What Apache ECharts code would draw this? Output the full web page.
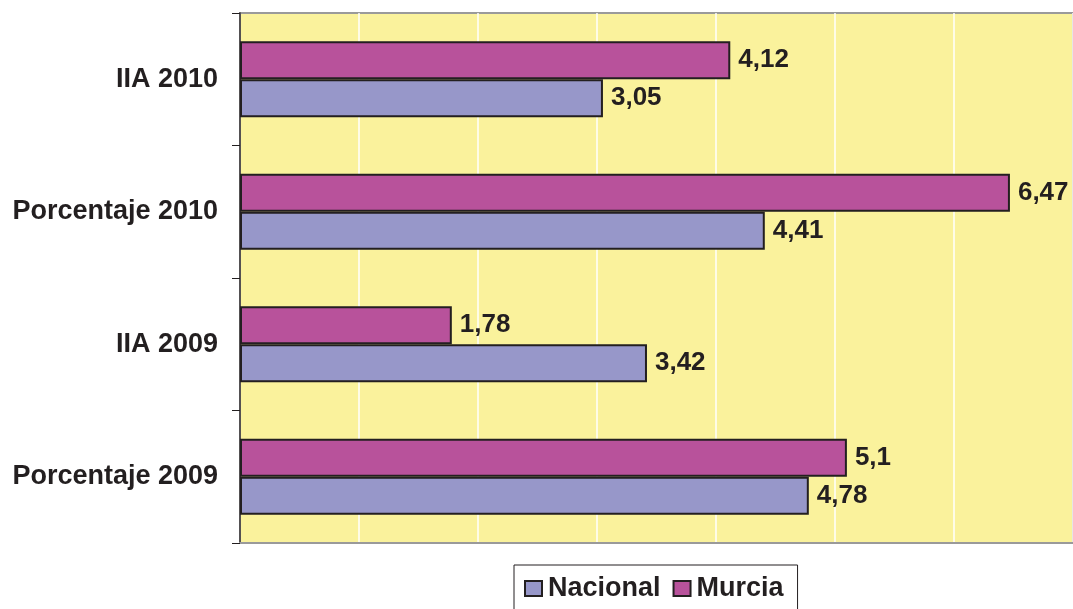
<!DOCTYPE html>
<html>
<head>
<meta charset="utf-8">
<script src="https://cdn.jsdelivr.net/npm/echarts@6/dist/echarts.min.js"></script>
<style>html,body{margin:0;padding:0;background:#fff;}#c{width:1073px;height:609px;}</style>
</head>
<body>
<div id="c"></div>
<script>
const categories = ['Porcentaje 2009', 'IIA 2009', 'Porcentaje 2010', 'IIA 2010'];
const nacional = [4.78, 3.42, 4.41, 3.05];
const murcia = [5.1, 1.78, 6.47, 4.12];
const seriesNames = ['Nacional', 'Murcia'];

const FONT = '"Liberation Sans", Arial, sans-serif';
const TXT = '#231f20';
const fmt = p => String(p.value).replace('.', ',');
const labelCfg = {
  show: true, position: 'right', distance: 8, formatter: fmt,
  color: TXT, fontFamily: FONT, fontWeight: 'bold', fontSize: 26
};

const chart = echarts.init(document.getElementById('c'), null, {renderer: 'canvas'});
chart.setOption({
  animation: false,
  grid: {
    left: 240, right: 0, top: 13, bottom: 66,
    show: true, backgroundColor: '#faf29c', borderColor: '#9a9a9a', borderWidth: 2
  },
  legend: {
    data: seriesNames,
    left: 514, top: 565,
    padding: [10, 14, 14, 10],
    itemGap: 12,
    itemWidth: 17, itemHeight: 15,
    borderColor: '#231f20', borderWidth: 1,
    textStyle: {color: TXT, fontFamily: FONT, fontWeight: 'bold', fontSize: 27, padding: [0, 0, 0, 1]},
    icon: 'rect'
  },
  xAxis: {
    type: 'value', min: 0, max: 7, interval: 1,
    axisLabel: {show: false},
    axisTick: {show: false},
    axisLine: {show: true, lineStyle: {color: '#9a9a9a', width: 2}},
    splitLine: {show: true, lineStyle: {color: '#ffffff', width: 1.5}}
  },
  yAxis: {
    type: 'category', data: categories,
    axisLine: {show: true, lineStyle: {color: '#231f20', width: 1.5}},
    axisTick: {show: true, length: 8, lineStyle: {color: '#231f20', width: 1}},
    axisLabel: {color: TXT, fontFamily: FONT, fontWeight: 'bold', fontSize: 27, margin: 22}
  },
  series: [
    {
      name: 'Murcia', type: 'bar', data: murcia,
      barWidth: 38, barGap: '0%',
      itemStyle: {color: '#b8529b', borderColor: '#231f20', borderWidth: 2},
      label: labelCfg
    },
    {
      name: 'Nacional', type: 'bar', data: nacional,
      barWidth: 38, barGap: '0%',
      itemStyle: {color: '#9797c9', borderColor: '#231f20', borderWidth: 2},
      label: labelCfg
    }
  ]
});
</script>
</body>
</html>
